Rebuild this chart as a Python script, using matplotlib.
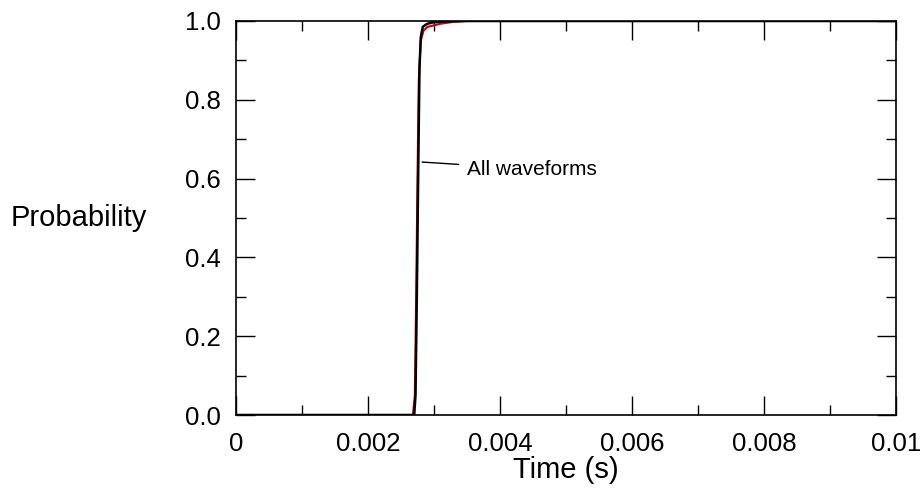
import matplotlib
matplotlib.use('Agg')
import matplotlib.pyplot as plt
from matplotlib.ticker import MultipleLocator

# cumulative arrival-time distributions
t_black = [0, 0.00270, 0.00272, 0.00274, 0.00276, 0.00278, 0.00280, 0.00283,
           0.00287, 0.0029, 0.0030, 0.0032, 0.0035, 0.01]
p_black = [0, 0, 0.05, 0.30, 0.60, 0.88, 0.96, 0.985, 0.99, 0.993, 0.997,
           0.999, 1.0, 1.0]
t_red = [0, 0.00268, 0.00271, 0.00273, 0.00275, 0.00277, 0.00280, 0.00284,
         0.0029, 0.0031, 0.0033, 0.0035, 0.01]
p_red = [0, 0, 0.05, 0.30, 0.60, 0.85, 0.95, 0.975, 0.985, 0.993, 0.998,
         1.0, 1.0]

x_ticks = [0, 0.002, 0.004, 0.006, 0.008, 0.01]
x_labels = ['0', '0.002', '0.004', '0.006', '0.008', '0.01']
y_ticks = [0, 0.2, 0.4, 0.6, 0.8, 1.0]
y_labels = ['0.0', '0.2', '0.4', '0.6', '0.8', '1.0']

plt.rcParams['font.family'] = ['Liberation Sans', 'DejaVu Sans']

fig = plt.figure(figsize=(9.24, 4.94), dpi=100)
ax = fig.add_axes([0.2554, 0.1599, 0.7143, 0.7976])

ax.plot(t_red, p_red, color='#cc0000', lw=1.5)
ax.plot(t_black, p_black, color='black', lw=1.8)

ax.set_xlim(0, 0.01)
ax.set_ylim(0, 1.0)
ax.set_xticks(x_ticks)
ax.set_xticklabels(x_labels)
ax.set_yticks(y_ticks)
ax.set_yticklabels(y_labels)
ax.xaxis.set_minor_locator(MultipleLocator(0.001))
ax.yaxis.set_minor_locator(MultipleLocator(0.1))

ax.tick_params(which='both', direction='in', top=True, right=True,
               labelsize=18.5)
ax.tick_params(axis='x', pad=12)
ax.tick_params(axis='y', pad=11)
ax.tick_params(which='major', length=14, width=1)
ax.tick_params(which='minor', length=7, width=1)
for s in ax.spines.values():
    s.set_linewidth(1.2)

ax.set_xlabel('Time (s)', fontsize=21, labelpad=0)
ax.set_ylabel('Probability', fontsize=21, rotation=0, ha='left', va='center')
ax.yaxis.set_label_coords(-0.342, 0.5)

ax.annotate('All waveforms', xy=(0.00282, 0.642), xytext=(0.0035, 0.624),
            fontsize=15, va='center',
            arrowprops=dict(arrowstyle='-', color='black', lw=1,
                            shrinkA=4, shrinkB=0))

fig.savefig('out.png', dpi=100)
